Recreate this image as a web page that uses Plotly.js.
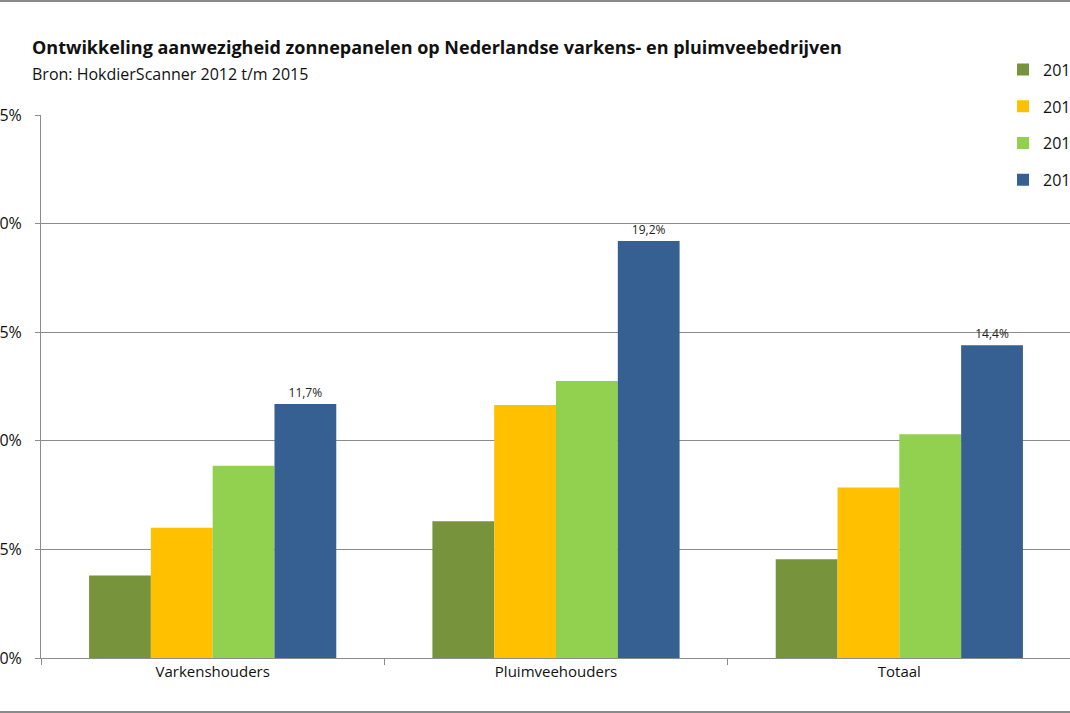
<!DOCTYPE html>
<html>
<head>
<meta charset="utf-8">
<script src="https://cdn.plot.ly/plotly-3.0.1.min.js"></script>
<style>
  * { margin: 0; padding: 0; box-sizing: border-box; }
  body { width: 1070px; height: 713px; overflow: hidden; background: #fff; }
  .frame { position: absolute; left: 0; top: 0; width: 1070px; height: 713px;
           border-top: 2px solid #8a8a8a; border-bottom: 2px solid #8a8a8a; overflow: hidden; }
  #chart { position: absolute; left: -30px; top: -2px; width: 1160px; height: 713px; }
</style>
</head>
<body>
<div class="frame"><div id="chart"></div></div>
<script>
  const categories = ['Varkenshouders', 'Pluimveehouders', 'Totaal'];
  const years = ['2012', '2013', '2014', '2015'];
  const v2012 = [3.8, 6.3, 4.55];
  const v2013 = [6.0, 11.65, 7.85];
  const v2014 = [8.85, 12.75, 10.3];
  const v2015 = [11.7, 19.2, 14.4];
  const colors = ['#77933c', '#ffc000', '#92d050', '#366092'];

  const series = [v2012, v2013, v2014, v2015];
  const data = series.map(function (vals, i) {
    let t = {
      x: categories, y: vals, type: 'bar', name: years[i],
      marker: { color: colors[i], line: { width: 0 } },
      legendgroup: years[i], hoverinfo: 'none'
    };
    if (i === 3) {
      t.text = vals.map(v => v.toFixed(1).replace('.', ',') + '%');
      t.textposition = 'outside';
      t.cliponaxis = false;
      t.textfont = { size: 12, color: '#222' };
    } else {
      t.textposition = 'none';
    }
    return t;
  });

  const font = '"Open Sans", "Liberation Sans", sans-serif';
  const layout = {
    width: 1160, height: 713,
    margin: { l: 71, r: 59, t: 115, b: 55 },
    font: { family: font, size: 15, color: '#111' },
    barmode: 'group', bargap: 0.28, bargroupgap: 0,
    showlegend: true,
    legend: {
      x: 0.934, y: 1.115, xanchor: 'left', yanchor: 'top',
      bgcolor: '#fff', font: { size: 16, color: '#111' },
      tracegroupgap: 13, itemwidth: 30
    },
    xaxis: {
      showgrid: false, showline: true, linecolor: '#8c8c8c', linewidth: 1,
      ticks: 'outside', tickson: 'boundaries', ticklen: 6, tickcolor: '#8c8c8c',
      tickfont: { size: 15, color: '#111' }
    },
    yaxis: {
      range: [0, 25], dtick: 5, ticksuffix: '%',
      showgrid: true, gridcolor: '#8c8c8c', gridwidth: 1,
      showline: true, linecolor: '#8c8c8c', zeroline: false,
      ticks: 'outside', ticklen: 5, tickcolor: '#8c8c8c', ticklabelstandoff: 10,
      tickfont: { size: 16, color: '#111' }
    },
    annotations: [
      { text: '<b>Ontwikkeling aanwezigheid zonnepanelen op Nederlandse varkens- en pluimveebedrijven</b>',
        xref: 'paper', yref: 'paper', x: -0.011, y: 1.1, xanchor: 'left', yanchor: 'bottom',
        showarrow: false, font: { size: 18, color: '#111' } },
      { text: 'Bron: HokdierScanner 2012 t/m 2015',
        xref: 'paper', yref: 'paper', x: -0.011, y: 1.052, xanchor: 'left', yanchor: 'bottom',
        showarrow: false, font: { size: 16, color: '#111' } }
    ]
  };

  Plotly.newPlot('chart', data, layout, { displayModeBar: false, staticPlot: true });
</script>
</body>
</html>
